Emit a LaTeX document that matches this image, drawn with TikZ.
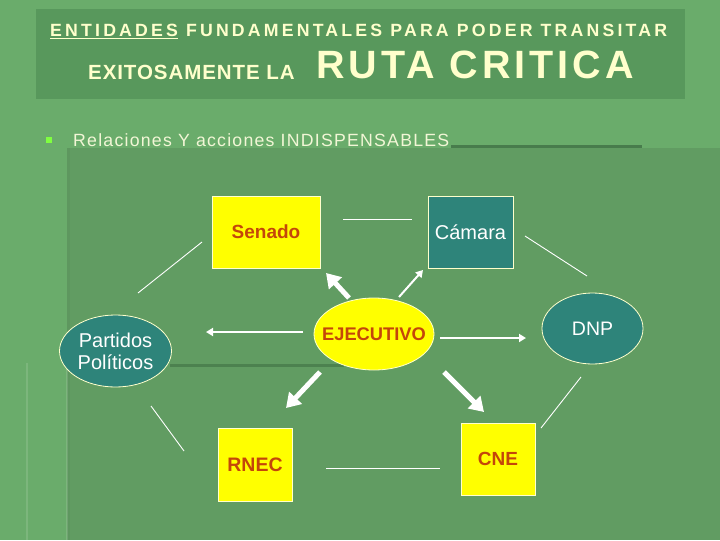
\documentclass[tikz,border=0pt]{standalone}
\usepackage{fontspec}
\setmainfont{Liberation Sans}
\newfontfamily\titlefont[LetterSpace=18]{Liberation Sans}
\newfontfamily\rutafont[LetterSpace=10]{Liberation Sans}
\newfontfamily\exitfont[LetterSpace=4.5]{Liberation Sans}
\newfontfamily\subfont[LetterSpace=7]{Liberation Sans}
\usetikzlibrary{arrows.meta,shapes.geometric}
\definecolor{bgA}{RGB}{106,172,107}
\definecolor{panelC}{RGB}{97,156,98}
\definecolor{bandC}{RGB}{88,152,92}
\definecolor{shadowC}{RGB}{72,124,76}
\definecolor{creamC}{RGB}{255,255,204}
\definecolor{subC}{RGB}{242,246,214}
\definecolor{bulletC}{RGB}{128,255,64}
\definecolor{redT}{RGB}{196,70,10}
\definecolor{tealC}{RGB}{46,132,122}
\definecolor{ylwC}{RGB}{255,255,0}
\tikzset{
  ybox/.style={draw=creamC,line width=0.8pt,fill=ylwC,text=redT,inner sep=0pt},
  tbox/.style={draw=creamC,line width=0.8pt,fill=tealC,text=white,inner sep=0pt},
  yell/.style={ellipse,draw=creamC,line width=0.8pt,fill=ylwC,inner sep=0pt},
  tell/.style={ellipse,draw=creamC,line width=0.8pt,fill=tealC,inner sep=0pt},
  link/.style={draw=white,line width=0.9pt},
  bigarrow/.style={draw=white,line width=5pt,-{Triangle[length=14pt 0 0,width=17pt 0 0]}},
  smallarrow/.style={draw=white,line width=2pt,-{Triangle[length=7pt 0 0,width=8pt 0 0]}}
}
\begin{document}
\begin{tikzpicture}[x=1pt,y=-1pt]
% background
\fill[bgA] (0,0) rectangle (720,540);
\fill[panelC] (67,148) rectangle (720,540);
\fill[panelC!92!black,opacity=0.35] (67,148) rectangle (70,540);
\fill[shadowC] (451,144.5) rectangle (642,147.5);
\fill[shadowC!85!panelC] (170,364) rectangle (344,367);
\draw[white,opacity=0.12,line width=1.5pt] (27,363) -- (27,540);
\draw[white,opacity=0.12,line width=1.5pt] (67,363) -- (67,540);
\useasboundingbox (0,0) rectangle (720,540);
% title band
\fill[bandC] (36,9) rectangle (685,99);
\node[anchor=base west,inner sep=0pt,text=creamC,font=\titlefont\bfseries\fontsize{17.7}{20}\selectfont] (t1) at (50,36.5) {\underline{ENTIDADES} FUNDAMENTALES PARA PODER TRANSITAR};
\node[anchor=base west,inner sep=0pt,text=creamC,font=\exitfont\bfseries\fontsize{20.5}{22}\selectfont] (t2) at (88,79.5) {EXITOSAMENTE LA};
\node[anchor=base west,inner sep=0pt,text=creamC,font=\rutafont\bfseries\fontsize{39.5}{42}\selectfont] (t3) at (316,78.5) {RUTA CRITICA};
% bullet line
\fill[bulletC] (46,137) rectangle (52,143) coordinate (bul);
\node[anchor=base west,inner sep=0pt,text=subC,font=\subfont\fontsize{17.7}{20}\selectfont] (sub) at (73,146) {Relaciones Y acciones INDISPENSABLES};
% nodes
\node[ybox,minimum width=108pt,minimum height=72pt,font=\bfseries\fontsize{19}{22}\selectfont] (senado) at (266,232) {Senado};
\node[tbox,minimum width=85pt,minimum height=72pt,font=\fontsize{20}{22}\selectfont] (camara) at (470.5,232) {Cámara};
\node[yell,minimum width=120pt,minimum height=72pt,
  label={[text=redT,font=\bfseries\fontsize{18.3}{22}\selectfont]center:EJECUTIVO}] (ejec) at (374,334) {};
\node[tell,minimum width=101pt,minimum height=71pt,
  label={[text=white,font=\fontsize{19.5}{22}\selectfont]center:DNP}] (dnp) at (592.5,328.5) {};
\node[tell,minimum width=112pt,minimum height=72pt,
  label={[text=white,align=center,font=\fontsize{20}{22}\selectfont]center:Partidos\\Políticos}] (part) at (115.5,351) {};
\node[ybox,minimum width=74pt,minimum height=73pt,font=\bfseries\fontsize{19.5}{22}\selectfont] (rnec) at (255,464.5) {RNEC};
\node[ybox,minimum width=74pt,minimum height=72pt,font=\bfseries\fontsize{19}{22}\selectfont] (cne) at (498,459) {CNE};
% connector end points
\coordinate (sc1) at (343,219); \coordinate (sc2) at (412,219);
\coordinate (sp1) at (202,242); \coordinate (sp2) at (138,293);
\coordinate (cd1) at (525,236); \coordinate (cd2) at (587,276);
\coordinate (pr1) at (151,406); \coordinate (pr2) at (184,451);
\coordinate (rc1) at (326,468); \coordinate (rc2) at (440,468);
\coordinate (cn1) at (541,428); \coordinate (cn2) at (581,377);
\draw[link] (sc1) -- (sc2);
\draw[link] (sp1) -- (sp2);
\draw[link] (cd1) -- (cd2);
\draw[link] (pr1) -- (pr2);
\draw[link] (rc1) -- (rc2);
\draw[link] (cn1) -- (cn2);
% arrows from EJECUTIVO
\coordinate (a1s) at (349,298); \coordinate (a1e) at (326,273);
\coordinate (a2s) at (399,297); \coordinate (a2e) at (423,270);
\coordinate (a3s) at (303,332); \coordinate (a3e) at (206,332);
\coordinate (a4s) at (440,338); \coordinate (a4e) at (526,338);
\coordinate (a5s) at (320,372); \coordinate (a5e) at (286,408);
\coordinate (a6s) at (444,372); \coordinate (a6e) at (484,412);
\draw[bigarrow] (a1s) -- (a1e);
\draw[smallarrow] (a2s) -- (a2e);
\draw[smallarrow] (a3s) -- (a3e);
\draw[smallarrow] (a4s) -- (a4e);
\draw[bigarrow] (a5s) -- (a5e);
\draw[bigarrow] (a6s) -- (a6e);
\end{tikzpicture}
\end{document}
